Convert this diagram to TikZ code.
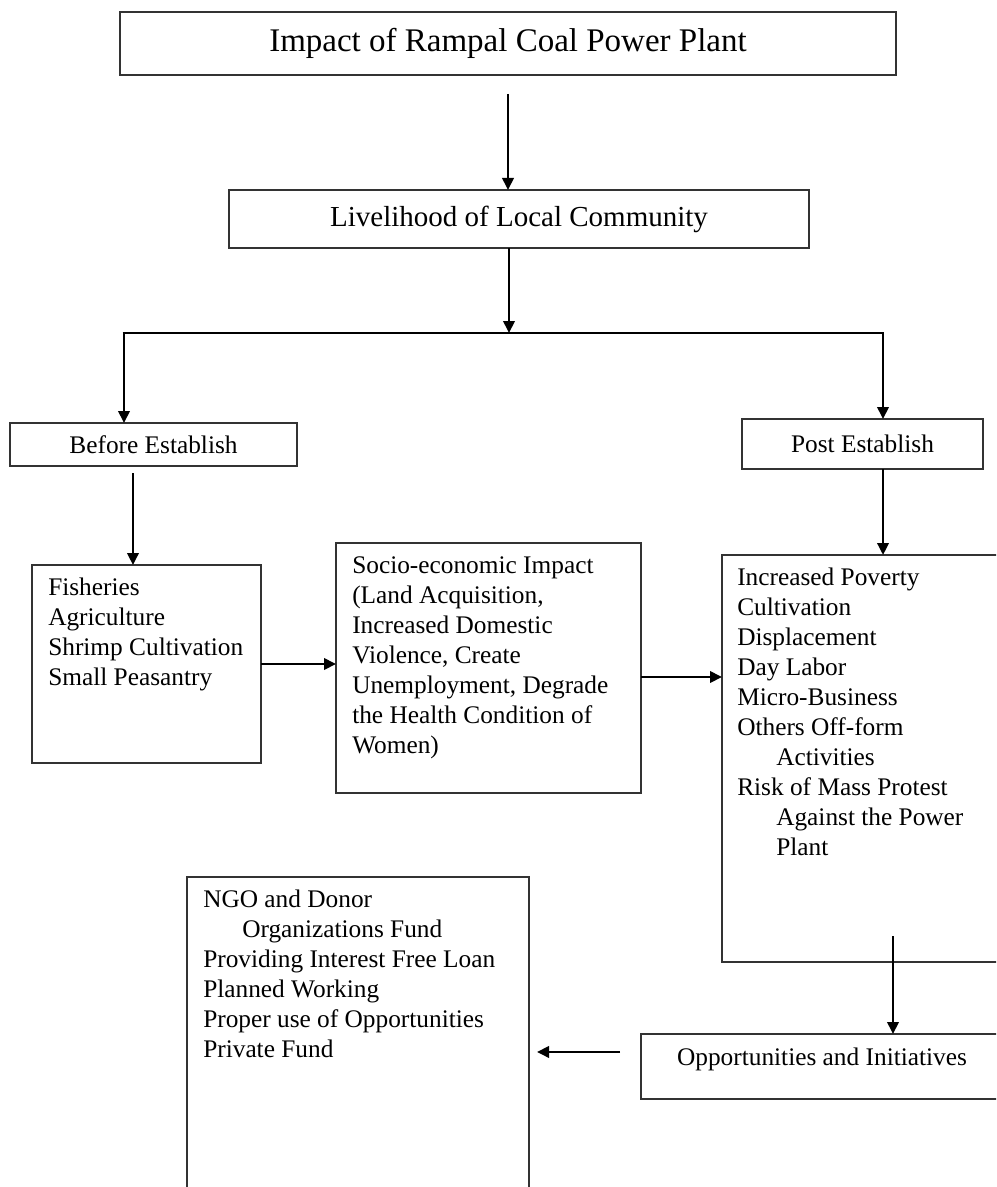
\documentclass[tikz,border=0pt]{standalone}
\usepackage{fontspec}
\setmainfont{Liberation Serif}
\usetikzlibrary{arrows.meta}
\begin{document}
\begin{tikzpicture}[x=0.75pt,y=-0.75pt,
  box/.style 2 args={draw=black!80, line width=1pt, inner sep=0pt, outer sep=0pt,
    anchor=north west, minimum width=#1*0.75pt, minimum height=#2*0.75pt},
  bodyfont/.style={font=\fontsize{19}{22.5}\selectfont},
  body/.style={bodyfont, inner sep=0pt, anchor=base west},
  arr/.style={-{Triangle[length=9pt,width=8.5pt]}, line width=2pt},
  branchline/.style={line width=2pt}
]
\useasboundingbox (0,0) rectangle (996,1187);
\fill[white] (0,0) rectangle (996,1187);
\clip (0,0) rectangle (996,1187);

% boxes
\node[box={776}{63}, font=\fontsize{24.75}{30}\selectfont] (title) at (120,12) {Impact of Rampal Coal Power Plant};
\node[box={580}{58}, font=\fontsize{21.75}{26}\selectfont] (live) at (229,190) {Livelihood of Local Community};
\node[box={287}{43}, bodyfont] (before) at (10,423) {Before Establish};
\node[box={241}{50}, bodyfont] (post) at (742,419) {Post Establish};
\node[box={229}{198}] (fish) at (32,565) {};
\node[box={305}{250}] (socio) at (336,543) {};
\node[box={300}{407}] (incr) at (722,555) {};
\node[box={370}{65}] (opp) at (641,1034) {};
\node[box={342}{340}] (ngo) at (187,877) {};

% texts
\node[body] (fishtxt) at (48,595) {\begin{tabular}[t]{@{}l@{}}Fisheries\\Agriculture\\Shrimp Cultivation\\Small Peasantry\end{tabular}};
\node[body] (sociotxt) at (352,573) {\begin{tabular}[t]{@{}l@{}}Socio-economic Impact\\(Land Acquisition,\\Increased Domestic\\Violence, Create\\Unemployment, Degrade\\the Health Condition of\\Women)\end{tabular}};
\node[body] (incrtxt) at (737,585) {\begin{tabular}[t]{@{}l@{}}Increased Poverty\\Cultivation\\Displacement\\Day Labor\\Micro-Business\\Others Off-form\\\hspace*{29.25pt}Activities\\Risk of Mass Protest\\\hspace*{29.25pt}Against the Power\\\hspace*{29.25pt}Plant\end{tabular}};
\node[body] (ngotxt) at (203,907) {\begin{tabular}[t]{@{}l@{}}NGO and Donor\\\hspace*{29.25pt}Organizations Fund\\Providing Interest Free Loan\\Planned Working\\Proper use of Opportunities\\Private Fund\end{tabular}};
\node[bodyfont, inner sep=0pt, anchor=base] (opptxt) at (822,1065) {Opportunities and Initiatives};

% connectors
\draw[arr] ([yshift=-14.25pt]title.south) -- (title.south |- live.north);
\coordinate (bj) at (509,333);
\coordinate (bl) at (124,333);
\coordinate (br) at (883,333);
\draw[arr] (live.south -| bj) -- (bj);
\draw[branchline] ([xshift=-1pt]bl) -- ([xshift=1pt]br);
\draw[arr] (bl) -- (bl |- before.north);
\draw[arr] (br) -- (br |- post.north);
\draw[arr] ([xshift=-15.4pt,yshift=-5.25pt]before.south) -- ([xshift=-15.4pt]before.south |- fish.north);
\draw[arr] (fish.east) -- (fish.east -| socio.west);
\draw[arr] ([yshift=-6.75pt]socio.east) -- ([yshift=-6.75pt]socio.east -| incr.west);
\draw[arr] ([xshift=15.4pt]post.south) -- ([xshift=15.4pt]post.south |- incr.north);
\coordinate (c10) at (893,936);
\draw[arr] (c10) -- (c10 |- opp.north);
\draw[arr] ([xshift=-15.75pt,yshift=10.9pt]opp.west) -- ([xshift=6pt,yshift=10.9pt]opp.west -| ngo.east);
\end{tikzpicture}
\end{document}
